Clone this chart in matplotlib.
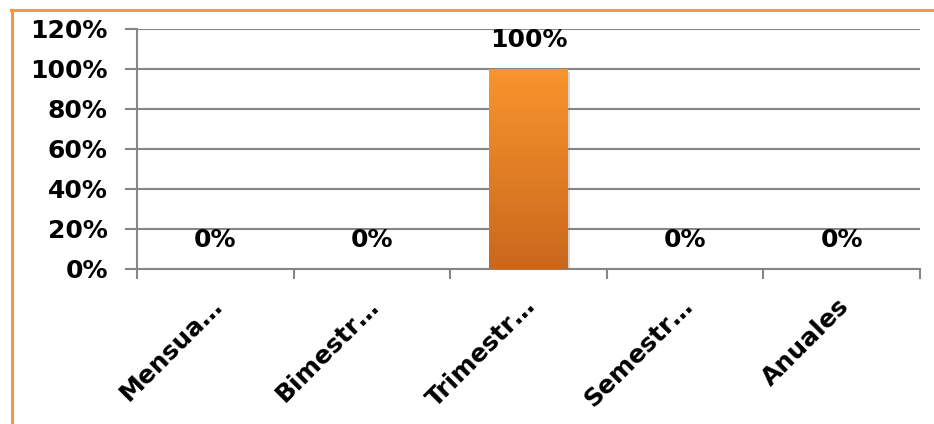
import numpy as np
import matplotlib
matplotlib.use("Agg")
import matplotlib.pyplot as plt
from matplotlib.lines import Line2D
from matplotlib.transforms import ScaledTranslation
from matplotlib import patheffects as pe
from matplotlib.colors import LinearSegmentedColormap

categories = ["Mensua…", "Bimestr…", "Trimestr…", "Semestr…", "Anuales"]
values = [0, 0, 100, 0, 0]
value_labels = ["0%", "0%", "100%", "0%", "0%"]
y_ticks = [0, 20, 40, 60, 80, 100, 120]

plt.rcParams["font.family"] = ["DejaVu Sans"]

W, H = 934, 424
fig = plt.figure(figsize=(W / 100, H / 100), dpi=100)
ax = fig.add_axes([137 / W, 1 - 269 / H, (920 - 137) / W, (269 - 29) / H])

grid_col = "#868686"
x = np.arange(len(categories))
bars = ax.bar(x, values, width=0.5, color="#E47F26", zorder=3)

# vertical orange gradient on each bar, with a soft drop shadow
cmap = LinearSegmentedColormap.from_list("orng", ["#C9681D", "#F9952D"])
grad = np.linspace(0, 1, 256).reshape(-1, 1)
for b in bars:
    if b.get_height() <= 0:
        continue
    b.set_path_effects([pe.SimplePatchShadow(offset=(2, -2), shadow_rgbFace="#888888", alpha=0.35),
                        pe.Normal()])
    x0, w, h = b.get_x(), b.get_width(), b.get_height()
    im = ax.imshow(grad, cmap=cmap, origin="lower", aspect="auto",
                   extent=(x0, x0 + w, 0, h), zorder=4)
    im.set_clip_path(b)

ax.set_xlim(-0.5, len(categories) - 0.5)
ax.set_ylim(0, 120)
ax.set_yticks(y_ticks)
ax.set_yticklabels([f"{v}%" for v in y_ticks], fontsize=18, fontweight="bold")
ax.yaxis.grid(True, color=grid_col, linewidth=1.5, zorder=0)
ax.set_axisbelow(True)

ax.set_xticks(x)
ax.set_xticks(np.arange(-0.5, len(categories)), minor=True)
ax.set_xticklabels(categories, fontsize=18, fontweight="bold", rotation=45,
                   ha="right", va="top", rotation_mode="anchor")
ax.tick_params(axis="x", which="major", length=0, pad=18)
ax.tick_params(axis="x", which="minor", length=7, width=1.5, color=grid_col)
ax.tick_params(axis="y", length=9, width=1.5, color=grid_col, pad=12)
offset = ScaledTranslation(-0.05, 0, fig.dpi_scale_trans)
for lbl in ax.get_xticklabels():
    lbl.set_transform(lbl.get_transform() + offset)

for s in ["top", "right"]:
    ax.spines[s].set_visible(False)
for s in ["left", "bottom"]:
    ax.spines[s].set_color(grid_col)
    ax.spines[s].set_linewidth(1.5)

for xi, v, t in zip(x, values, value_labels):
    ax.annotate(t, (xi, v), xytext=(0, 17), textcoords="offset pixels",
                ha="center", va="bottom", fontsize=18, fontweight="bold", zorder=5)

# orange frame along the top and left edges
frame_col = "#F79646"
fig.add_artist(Line2D([10.5 / W, 1], [1 - 9.5 / H, 1 - 9.5 / H], color=frame_col,
                      linewidth=2.2, transform=fig.transFigure))
fig.add_artist(Line2D([11.5 / W, 11.5 / W], [0, 1 - 9.5 / H], color=frame_col,
                      linewidth=2.2, transform=fig.transFigure))

fig.savefig("out.png", dpi=100)
